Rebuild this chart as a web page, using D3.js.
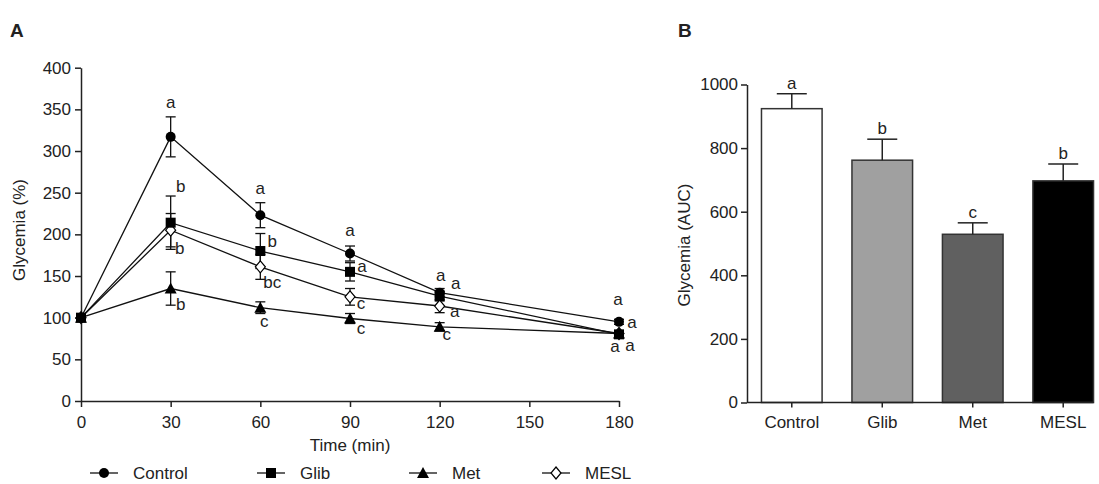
<!DOCTYPE html>
<html><head><meta charset="utf-8">
<script src="https://cdn.jsdelivr.net/npm/d3@7"></script>
<style>
html,body{margin:0;padding:0;background:#fff;}
text{font-family:"Liberation Sans",Arial,sans-serif;fill:#222;}
</style></head>
<body>
<svg id="chart" width="1099" height="484"></svg>
<script>
// ---------- DATA ----------
const times = [0, 30, 60, 90, 120, 180];
const seriesNames = ["Control", "Glib", "Met", "MESL"];
const controlMean = [100, 317, 223, 177, 130, 95];
const controlErr  = [0, 24, 15, 9, 5, 3];
const glibMean    = [100, 214, 180, 155, 126, 80];
const glibErr     = [0, 32, 21, 11, 6, 4];
const metMean     = [100, 135, 112, 99, 89, 81];
const metErr      = [0, 20, 7, 6, 5, 3];
const meslMean    = [100, 205, 161, 125, 114, 81];
const meslErr     = [0, 20, 15, 10, 8, 3];
const controlLetters = ["", "a", "a", "a", "a", "a"];
const glibLetters    = ["", "b", "b", "a", "a", "a"];
const metLetters     = ["", "b", "c", "c", "c", "a"];
const meslLetters    = ["", "b", "bc", "c", "a", "a"];
const xTicksA = [0, 30, 60, 90, 120, 150, 180];
const yTicksA = [0, 50, 100, 150, 200, 250, 300, 350, 400];

const aucGroups = ["Control", "Glib", "Met", "MESL"];
const aucMean   = [924, 762, 529, 697];
const aucErr    = [47, 66, 36, 53];
const aucLetters = ["a", "b", "c", "b"];
const yTicksB = [0, 200, 400, 600, 800, 1000];

// ---------- STYLE / LAYOUT ----------
const letterOffsets = {
  Control: [null, [0,-34], [0,-26], [0,-23], [1,-17], [-1,-22]],
  Glib:    [null, [10,-36], [12,-9], [12,-5], [16,-12], [13,-11]],
  Met:     [null, [10,16], [4,14], [11,10], [7,8], [-4,13]],
  MESL:    [null, [9,19], [12,16], [11,7], [15,6], [11,12]]
};
const FS = 17;
const ink = "#222";
const svg = d3.select("#chart");

// ---------- PANEL A ----------
const xA = d3.scaleLinear().domain([0,180]).range([81,619]);
const yA = d3.scaleLinear().domain([0,400]).range([401,67.7]);

const gA = svg.append("g");
const axXA = gA.append("g").attr("transform","translate(0,401)")
  .call(d3.axisBottom(xA).tickValues(xTicksA).tickSize(6).tickSizeOuter(0).tickFormat(d3.format("d")));
const axYA = gA.append("g").attr("transform","translate(81,0)")
  .call(d3.axisLeft(yA).tickValues(yTicksA).tickSize(6).tickSizeOuter(0).tickFormat(d3.format("d")));
[axXA, axYA].forEach(a=>{
  a.selectAll("path,line").attr("stroke",ink).attr("stroke-width",1.5);
  a.selectAll("text").attr("font-size",FS).attr("fill",ink).style("font-family",'"Liberation Sans",Arial,sans-serif');
});
axXA.selectAll("text").attr("dy","1.05em");
axYA.selectAll("text").attr("dx","-1px");

gA.append("text").attr("x",350).attr("y",451).attr("text-anchor","middle").attr("font-size",FS).text("Time (min)");
gA.append("text").attr("transform","translate(25,230) rotate(-90)").attr("text-anchor","middle").attr("font-size",FS).text("Glycemia (%)");
svg.append("text").attr("x",10).attr("y",37).attr("font-size",19).attr("font-weight","bold").text("A");

const series = [
  {name:"Control", mean:controlMean, err:controlErr, letters:controlLetters, shape:"circle"},
  {name:"Glib", mean:glibMean, err:glibErr, letters:glibLetters, shape:"square"},
  {name:"Met", mean:metMean, err:metErr, letters:metLetters, shape:"triangle"},
  {name:"MESL", mean:meslMean, err:meslErr, letters:meslLetters, shape:"diamond"}
];
// drawing order of markers (Glib on top, as in the reference)
const markerOrder = [3, 2, 0, 1];

function marker(g, shape, cx, cy){
  if(shape==="circle") g.append("circle").attr("cx",cx).attr("cy",cy).attr("r",5).attr("fill","#000");
  else if(shape==="square") g.append("rect").attr("x",cx-5).attr("y",cy-5).attr("width",10).attr("height",10).attr("fill","#000");
  else if(shape==="triangle") g.append("path").attr("d",`M${cx},${cy-6}L${cx+6},${cy+5}L${cx-6},${cy+5}Z`).attr("fill","#000");
  else if(shape==="diamond") g.append("path").attr("d",`M${cx},${cy-6}L${cx+5},${cy}L${cx},${cy+6}L${cx-5},${cy}Z`).attr("fill","#fff").attr("stroke","#000").attr("stroke-width",1.2);
}

const line = d3.line().x((d,i)=>xA(times[i])).y(d=>yA(d));
series.forEach(s=>{
  gA.append("path").attr("d",line(s.mean)).attr("fill","none").attr("stroke","#111").attr("stroke-width",1.3);
});
series.forEach(s=>{
  s.mean.forEach((m,i)=>{
    const e = s.err[i]; if(!e) return;
    const x = xA(times[i]);
    gA.append("line").attr("x1",x).attr("x2",x).attr("y1",yA(m-e)).attr("y2",yA(m+e)).attr("stroke","#111").attr("stroke-width",1.3);
    [m-e, m+e].forEach(v=>gA.append("line").attr("x1",x-5).attr("x2",x+5).attr("y1",yA(v)).attr("y2",yA(v)).attr("stroke","#111").attr("stroke-width",1.3));
  });
});
markerOrder.forEach(k=>{
  const s = series[k];
  s.mean.forEach((m,i)=>marker(gA, s.shape, xA(times[i]), yA(m)));
});
series.forEach(s=>{
  s.letters.forEach((t,i)=>{
    if(!t) return;
    const o = letterOffsets[s.name][i];
    gA.append("text").attr("x",xA(times[i])+o[0]).attr("y",yA(s.mean[i])+o[1]).attr("dy","0.3em")
      .attr("text-anchor","middle").attr("font-size",FS).text(t);
  });
});

// legend
const legX = [104, 271, 423, 556];
series.forEach((s,i)=>{
  const lg = svg.append("g");
  lg.append("line").attr("x1",legX[i]-14).attr("x2",legX[i]+14).attr("y1",473).attr("y2",473).attr("stroke","#111").attr("stroke-width",1.3);
  marker(lg, s.shape, legX[i], 473);
  lg.append("text").attr("x",legX[i]+29).attr("y",473).attr("dy","0.35em").attr("font-size",FS).text(s.name);
});

// ---------- PANEL B ----------
const xB = d3.scaleBand().domain(aucGroups).range([747,1108]).paddingInner(0.33).paddingOuter(0.16);
const yB = d3.scaleLinear().domain([0,1000]).range([402.5,84.5]);
const gB = svg.append("g");
const barFill = ["#ffffff","#a0a0a0","#606060","#000000"];
gB.selectAll("rect.bar").data(aucMean).enter().append("rect")
  .attr("x",(d,i)=>xB(aucGroups[i])).attr("width",xB.bandwidth())
  .attr("y",d=>yB(d)).attr("height",d=>yB(0)-yB(d))
  .attr("fill",(d,i)=>barFill[i]).attr("stroke","#333").attr("stroke-width",1.5);
aucMean.forEach((m,i)=>{
  const cx = xB(aucGroups[i]) + xB.bandwidth()/2;
  gB.append("line").attr("x1",cx).attr("x2",cx).attr("y1",yB(m)).attr("y2",yB(m+aucErr[i])).attr("stroke","#222").attr("stroke-width",1.5);
  gB.append("line").attr("x1",cx-15).attr("x2",cx+15).attr("y1",yB(m+aucErr[i])).attr("y2",yB(m+aucErr[i])).attr("stroke","#222").attr("stroke-width",1.5);
  gB.append("text").attr("x",cx).attr("y",yB(m+aucErr[i])-5).attr("text-anchor","middle").attr("font-size",FS).text(aucLetters[i]);
});
const axYB = gB.append("g").attr("transform","translate(747,0)")
  .call(d3.axisLeft(yB).tickValues(yTicksB).tickSize(6).tickSizeOuter(0).tickFormat(d3.format("d")));
const axXB = gB.append("g").attr("transform","translate(0,402.5)")
  .call(d3.axisBottom(xB).tickSize(5).tickSizeOuter(0));
axXB.select(".domain").remove();
gB.append("line").attr("x1",747).attr("x2",xB("MESL")+xB.bandwidth()).attr("y1",402.5).attr("y2",402.5).attr("stroke",ink).attr("stroke-width",1.5);
[axXB, axYB].forEach(a=>{
  a.selectAll("path,line").attr("stroke",ink).attr("stroke-width",1.5);
  a.selectAll("text").attr("font-size",FS).attr("fill",ink).style("font-family",'"Liberation Sans",Arial,sans-serif');
});
axXB.selectAll("text").attr("dy","1.05em");
gB.append("text").attr("transform","translate(690,245) rotate(-90)").attr("text-anchor","middle").attr("font-size",FS).text("Glycemia (AUC)");
svg.append("text").attr("x",678).attr("y",37).attr("font-size",19).attr("font-weight","bold").text("B");
</script>
</body></html>
